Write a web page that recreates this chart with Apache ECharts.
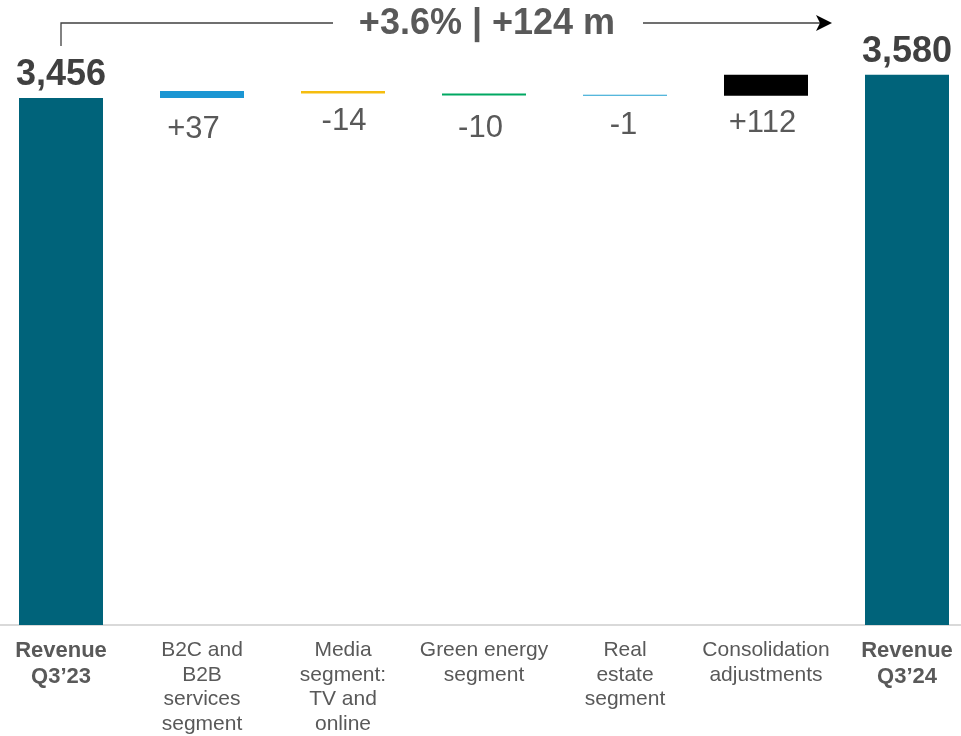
<!DOCTYPE html>
<html>
<head>
<meta charset="utf-8">
<script src="https://cdn.jsdelivr.net/npm/echarts@6/dist/echarts.min.js"></script>
<style>
html,body{margin:0;padding:0;background:#fff;}
#main{width:961px;height:736px;}
</style>
</head>
<body>
<div id="main"></div>
<script>
const categories = ['Revenue\nQ3’23', 'B2C and\nB2B\nservices\nsegment', 'Media\nsegment:\nTV and\nonline', 'Green energy\nsegment', 'Real\nestate\nsegment', 'Consolidation\nadjustments', 'Revenue\nQ3’24'];
const startValue = 3456;
const endValue = 3580;
const deltas = [37, -14, -10, -1, 112];
const barColors = ['#00637A', '#1B96D3', '#F5BD0F', '#00A862', '#1E9FD0', '#000000', '#00637A'];
// small label nudges (layout only), one per delta label: [dx, dy]
const deltaLabelNudge = [[-8.5, 0], [1, -4], [-3.5, 2], [-1.5, -1.5], [-3.5, -4]];

const FONT = '"Liberation Sans", Arial, sans-serif';

// waterfall pieces
let run = startValue;
const baseData = ['-'];
const stepData = ['-'];
deltas.forEach(function (d, k) {
  baseData.push(d >= 0 ? run : run + d);
  stepData.push({value: Math.abs(d), label: {offset: deltaLabelNudge[k]}});
  run += d;
});
baseData.push('-');
stepData.push('-');
const totalData = categories.map(function (c, i) {
  if (i === 0) return startValue;
  if (i === categories.length - 1) return endValue;
  return '-';
});

const fmt = function (v) { return v.toLocaleString('en-US'); };
const pct = ((endValue / startValue - 1) * 100).toFixed(1);
const diff = endValue - startValue;
const titleText = (diff >= 0 ? '+' : '') + pct + '% | ' + (diff >= 0 ? '+' : '') + diff + ' m';

const chart = echarts.init(document.getElementById('main'), null, {renderer: 'canvas'});

const option = {
  animation: false,
  backgroundColor: '#fff',
  grid: {left: -9.5, width: 987, top: 0, height: 625, containLabel: false, outerBoundsMode: 'none'},
  xAxis: {
    type: 'category',
    data: categories.map(function (c, i) {
      const bold = (i === 0 || i === categories.length - 1);
      return {value: c, textStyle: bold ? {fontWeight: 'bold', fontSize: 22, lineHeight: 26} : {fontWeight: 'normal', fontSize: 21, lineHeight: 24.5}};
    }),
    axisTick: {show: false},
    axisLine: {show: true, lineStyle: {color: '#D9D9D9', width: 2}},
    axisLabel: {interval: 0, margin: 13, color: '#595959', fontFamily: FONT, fontSize: 21, lineHeight: 24.5, hideOverlap: false}
  },
  yAxis: {type: 'value', min: 645, max: 3978, show: false, splitLine: {show: false}},
  series: [
    {
      name: 'total', type: 'bar', barWidth: 84, barGap: '-100%',
      data: totalData,
      itemStyle: {color: function (p) { return barColors[p.dataIndex]; }},
      label: {show: true, position: 'top', distance: 5, fontFamily: FONT, fontSize: 36, fontWeight: 'bold', color: '#404040',
        formatter: function (p) { return fmt(p.value); }}
    },
    {
      name: 'base', type: 'bar', stack: 'w', barWidth: 84,
      data: baseData,
      itemStyle: {color: 'rgba(0,0,0,0)'},
      emphasis: {disabled: true}
    },
    {
      name: 'step', type: 'bar', stack: 'w', barWidth: 84, barMinHeight: 1,
      data: stepData,
      itemStyle: {color: function (p) { return barColors[p.dataIndex]; }},
      label: {show: true, position: 'bottom', distance: 16, fontFamily: FONT, fontSize: 31, color: '#595959',
        formatter: function (p) { const d = deltas[p.dataIndex - 1]; return (d >= 0 ? '+' : '') + d; }}
    }
  ]
};
chart.setOption(option);

const x0 = chart.convertToPixel({xAxisIndex: 0}, 0);
const ly = 23;
chart.setOption({
  graphic: [
    {type: 'polyline', shape: {points: [[x0, 46], [x0, ly], [333, ly]]}, style: {stroke: '#404040', lineWidth: 1.3, fill: null}},
    {type: 'line', shape: {x1: 643, y1: ly, x2: 822, y2: ly}, style: {stroke: '#404040', lineWidth: 1.3}},
    {type: 'polygon', shape: {points: [[832, ly], [816, ly - 8], [820, ly], [816, ly + 8]]}, style: {fill: '#000'}},
    {type: 'text', x: 487, y: ly + 1, style: {text: titleText, font: 'bold 36px ' + FONT, fill: '#595959', align: 'center', verticalAlign: 'middle'}}
  ]
});
</script>
</body>
</html>
